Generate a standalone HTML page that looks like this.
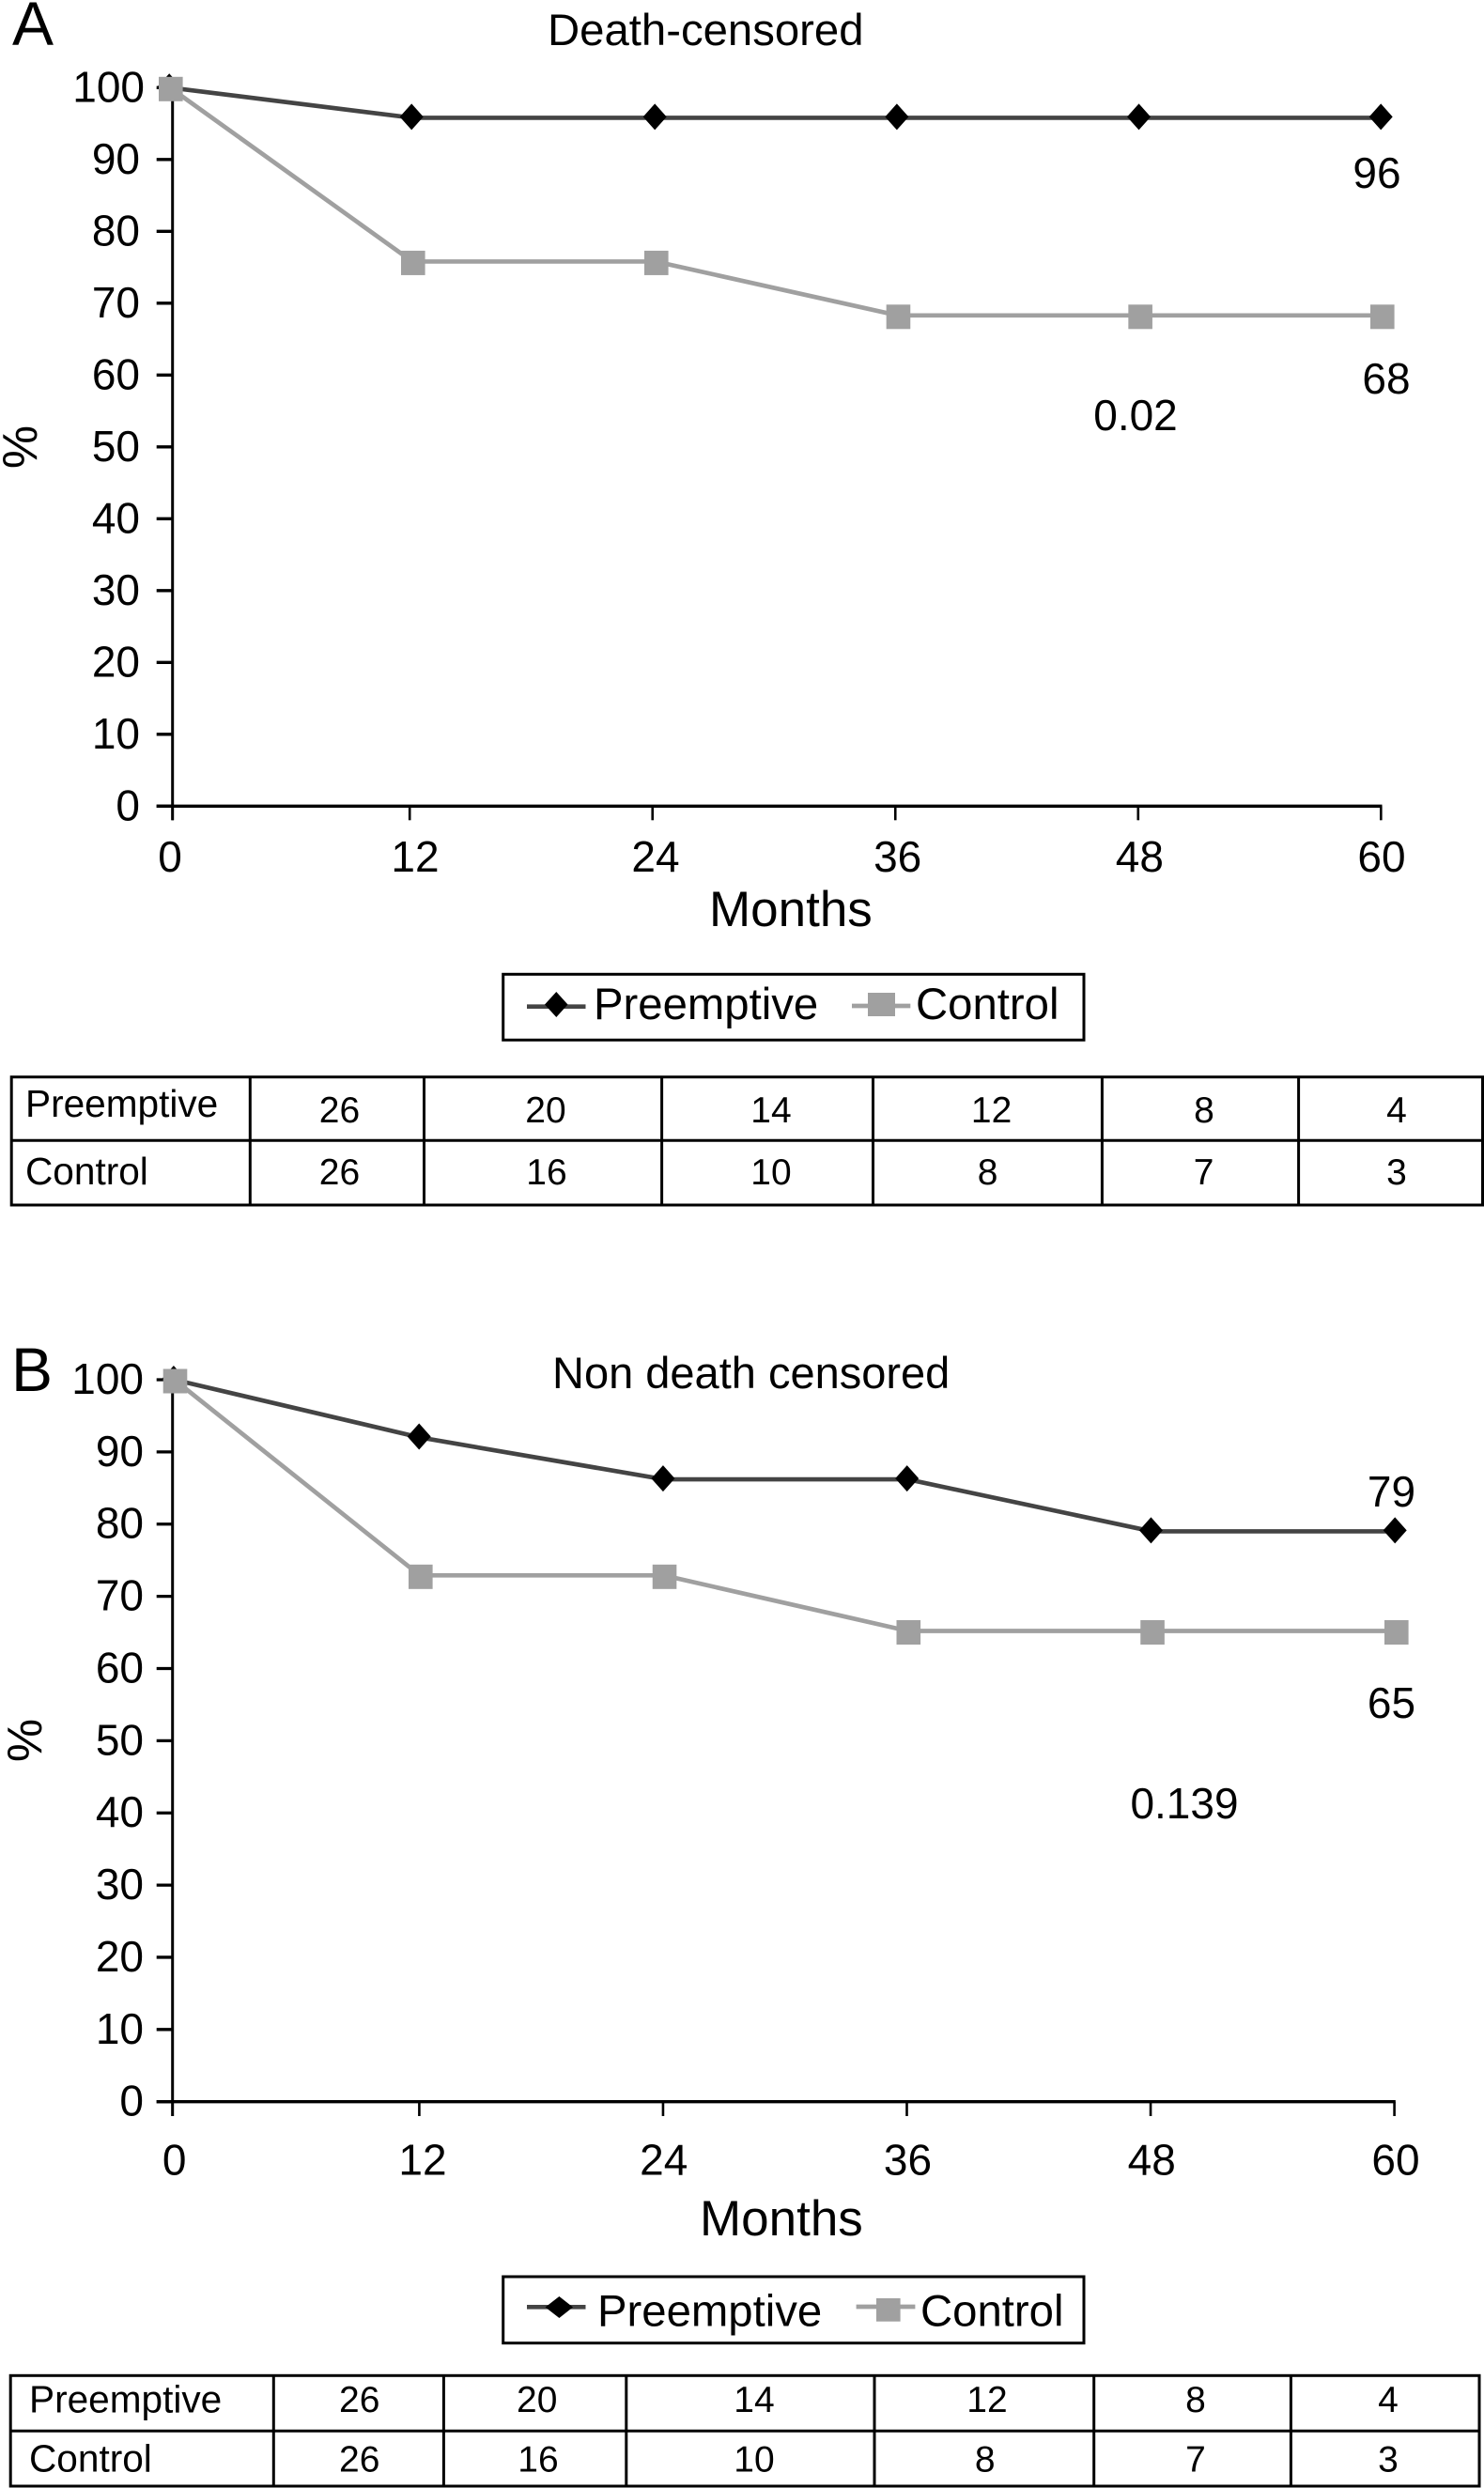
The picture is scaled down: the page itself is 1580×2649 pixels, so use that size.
<!DOCTYPE html>
<html lang="en">
<head>
<meta charset="utf-8">
<title>Preemptive vs Control survival charts</title>
<style>
  html, body { margin: 0; padding: 0; background: #fff; }
  svg { display: block; }
  text { font-family: "Liberation Sans", Arial, sans-serif; fill: #000; }
</style>
</head>
<body>
<svg id="figure" width="1580" height="2649" viewBox="0 0 1580 2649" xmlns="http://www.w3.org/2000/svg">
  <rect x="0" y="0" width="1580" height="2649" fill="#fff"/>
  <text x="13" y="48" font-size="66">A</text>
  <text x="583" y="48" font-size="47.3">Death-censored</text>
  <text text-anchor="middle" font-size="52" transform="translate(39 476) rotate(-90)">%</text>
  <text x="755" y="986" font-size="53">Months</text>
  <text x="1466" y="200" text-anchor="middle" font-size="46">96</text>
  <text x="1476" y="419" text-anchor="middle" font-size="46">68</text>
  <text x="1209" y="458" text-anchor="middle" font-size="46">0.02</text>

  <text x="12" y="1481" font-size="66">B</text>
  <text x="588" y="1478" font-size="47">Non death censored</text>
  <text text-anchor="middle" font-size="52" transform="translate(44 1853) rotate(-90)">%</text>
  <text x="745" y="2380" font-size="53">Months</text>
  <text x="1481.5" y="1604" text-anchor="middle" font-size="46">79</text>
  <text x="1481.5" y="1829" text-anchor="middle" font-size="46">65</text>
  <text x="1261" y="1936" text-anchor="middle" font-size="46">0.139</text>

  <g>
    <rect x="535.7" y="1037.3" width="618.3" height="70" fill="#fff" stroke="#000" stroke-width="3"/>
    <line x1="561" y1="1071.7" x2="623.5" y2="1071.7" stroke="#444" stroke-width="4.7"/>
    <polygon points="592.3,1056 604.5,1069.5 592.3,1083 580,1069.5" fill="#000"/>
    <text x="632" y="1085" font-size="47.3">Preemptive</text>
    <line x1="907" y1="1071" x2="969.3" y2="1071" stroke="#a0a0a0" stroke-width="4.7"/>
    <rect x="924" y="1057" width="29" height="25" fill="#a0a0a0"/>
    <text x="975" y="1085" font-size="47.3">Control</text>
  </g>
  <g>
    <rect x="535.7" y="2424" width="618.3" height="70.7" fill="#fff" stroke="#000" stroke-width="3"/>
    <line x1="561" y1="2456.3" x2="623.5" y2="2456.3" stroke="#444" stroke-width="4.7"/>
    <polygon points="595.4,2445 610,2456.5 595.4,2468 580.6,2456.5" fill="#000"/>
    <text x="636" y="2476.7" font-size="47.3">Preemptive</text>
    <line x1="911.6" y1="2456" x2="974.4" y2="2456" stroke="#a0a0a0" stroke-width="4.7"/>
    <rect x="933" y="2447" width="25.6" height="24.7" fill="#a0a0a0"/>
    <text x="980" y="2476.7" font-size="47.3">Control</text>
  </g>
</svg>

<script>
const months = [0, 12, 24, 36, 48, 60];
const yTickLabels = [0, 10, 20, 30, 40, 50, 60, 70, 80, 90, 100];

const panelAPreemptive = [100, 95.8, 95.8, 95.8, 95.8, 95.8];
const panelAControl = [100, 75.8, 75.8, 68.3, 68.3, 68.3];
const panelBPreemptive = [100, 92, 86.2, 86.2, 79, 79];
const panelBControl = [100, 72.9, 72.9, 65.2, 65.2, 65.2];

const panelARiskPreemptive = [26, 20, 14, 12, 8, 4];
const panelARiskControl = [26, 16, 10, 8, 7, 3];
const panelBRiskPreemptive = [26, 20, 14, 12, 8, 4];
const panelBRiskControl = [26, 16, 10, 8, 7, 3];

const NS = 'http://www.w3.org/2000/svg';
const figure = document.getElementById('figure');

function add(tag, attrs, parent) {
  const el = document.createElementNS(NS, tag);
  for (const k in attrs) el.setAttribute(k, attrs[k]);
  (parent || figure).appendChild(el);
  return el;
}

function piecewiseScale(domain, range) {
  return function (v) {
    let i = 0;
    while (i < domain.length - 2 && v > domain[i + 1]) i++;
    const t = (v - domain[i]) / (domain[i + 1] - domain[i]);
    return range[i] + t * (range[i + 1] - range[i]);
  };
}

function drawPanel(prefix, cfg, preemptive, control) {
  const group = add('g', {});
  
  

  const y = piecewiseScale([0, 100], [cfg.y0, cfg.y100]);
  const xTick = piecewiseScale(cfg.tickDomain, cfg.tickRange);
  const xMark = piecewiseScale(cfg.markDomain, cfg.markRange);

  const yAxis = add('line', { x1: cfg.axisX, y1: y(100) - 4, x2: cfg.axisX, y2: cfg.xTickEnd, stroke: '#000', 'stroke-width': 3 }, group);
  
  

  const xAxis = add('line', { x1: cfg.axisX - 17, y1: y(0), x2: xTick(60) + 1.2, y2: y(0), stroke: '#000', 'stroke-width': 3.3 }, group);
  
  

  yTickLabels.forEach(function (v) {
    const tick = add('line', { x1: cfg.axisX - 17, y1: y(v), x2: cfg.axisX, y2: y(v), stroke: '#000', 'stroke-width': 3.3 }, group);
    
    
    const label = add('text', { x: cfg.yLabelX + (v >= 100 ? cfg.yHundredShift : 0), y: y(v) + 15, 'text-anchor': 'end', 'font-size': 46 }, group);
    label.textContent = String(v);
    
    
  });

  months.forEach(function (m) {
    const tick = add('line', { x1: xTick(m), y1: y(0), x2: xTick(m), y2: cfg.xTickEnd, stroke: '#000', 'stroke-width': 2.6 }, group);
    
    
    const label = add('text', { x: xMark(m) + (m === 12 ? 3 : 0), y: cfg.xLabelY, 'text-anchor': 'middle', 'font-size': 46 }, group);
    label.textContent = String(m);
    
    
  });

  const prePts = months.map(function (m, i) { return xMark(m) + ',' + y(preemptive[i]); }).join(' ');
  const conPts = months.map(function (m, i) { return xMark(m) + ',' + y(control[i]); }).join(' ');

  const preLine = add('polyline', { points: prePts, fill: 'none', stroke: '#444', 'stroke-width': 4.7, 'stroke-linejoin': 'round' }, group);
  
  

  const conLine = add('polyline', { points: conPts, fill: 'none', stroke: '#a0a0a0', 'stroke-width': 4.7, 'stroke-linejoin': 'round' }, group);
  
  

  months.forEach(function (m, i) {
    const cx = xMark(m) - 0.8;
    const cy = y(preemptive[i]) - 1;
    const pts = [[cx, cy - 14], [cx + 12.5, cy], [cx, cy + 14], [cx - 12.5, cy]].map(function (p) { return p.join(','); }).join(' ');
    const marker = add('polygon', { points: pts, fill: '#000' }, group);
    
    
  });

  months.forEach(function (m, i) {
    const cx = xMark(m) + 0.8;
    const cy = y(control[i]) + 1.5;
    const marker = add('rect', { x: cx - 12.8, y: cy - 13, width: 25.6, height: 26, fill: '#a0a0a0' }, group);
    
    
  });
}

function drawTable(prefix, t, riskPreemptive, riskControl) {
  const group = add('g', {});
  
  

  const frame = add('rect', { x: t.left, y: t.top, width: t.right - t.left, height: t.bottom - t.top, fill: 'none', stroke: '#000', 'stroke-width': 3 }, group);
  
  

  const rowRule = add('line', { x1: t.left, y1: t.mid, x2: t.right, y2: t.mid, stroke: '#000', 'stroke-width': 3 }, group);
  
  

  t.cols.forEach(function (cx) {
    const rule = add('line', { x1: cx, y1: t.top, x2: cx, y2: t.bottom, stroke: '#000', 'stroke-width': 3 }, group);
    
    
  });

  const rows = [
    { label: 'Preemptive', values: riskPreemptive, labelY: t.labelY1, valueY: t.valueY1, centers: t.centers1 },
    { label: 'Control', values: riskControl, labelY: t.labelY2, valueY: t.valueY2, centers: t.centers2 }
  ];
  rows.forEach(function (row) {
    const head = add('text', { x: t.labelX, y: row.labelY, 'font-size': 40.6 }, group);
    head.textContent = row.label;
    
    
    row.values.forEach(function (v, i) {
      const cell = add('text', { x: row.centers[i], y: row.valueY, 'text-anchor': 'middle', 'font-size': 39 }, group);
      cell.textContent = String(v);
      
      
    });
  });
}

drawPanel('panel-a', {
  axisX: 183.7, y0: 858.3, y100: 93.3, xTickEnd: 873.3, xLabelY: 928,
  yLabelX: 149, yHundredShift: 5,
  tickDomain: [0, 12, 60], tickRange: [183.7, 436.2, 1470.3],
  markDomain: [0, 12, 24, 60], markRange: [181, 439, 698, 1471]
}, panelAPreemptive, panelAControl);

drawPanel('panel-b', {
  axisX: 183.7, y0: 2237.7, y100: 1469, xTickEnd: 2253, xLabelY: 2315.7,
  yLabelX: 153, yHundredShift: 0,
  tickDomain: [0, 12, 60], tickRange: [183.7, 446.4, 1484.6],
  markDomain: [0, 12, 60], markRange: [185.7, 447, 1486]
}, panelBPreemptive, panelBControl);

drawTable('panel-a', {
  left: 12.2, right: 1578.5, top: 1146.7, mid: 1214.3, bottom: 1283,
  cols: [266.3, 451.5, 704.6, 929.5, 1173.4, 1382.6],
  labelX: 27, labelY1: 1189, labelY2: 1261, valueY1: 1195, valueY2: 1261,
  centers1: [361.5, 581, 821, 1055.6, 1282, 1487],
  centers2: [361.5, 582, 821, 1051.6, 1281.6, 1487]
}, panelARiskPreemptive, panelARiskControl);

drawTable('panel-b', {
  left: 11.2, right: 1575, top: 2529.3, mid: 2588.3, bottom: 2647,
  cols: [291.3, 472.4, 666.8, 931, 1164.7, 1374.4],
  labelX: 31, labelY1: 2568.3, labelY2: 2631.7, valueY1: 2568, valueY2: 2631.7,
  centers1: [382.7, 571.7, 803, 1051, 1273, 1478],
  centers2: [382.7, 573, 803, 1048.7, 1273, 1478]
}, panelBRiskPreemptive, panelBRiskControl);
</script>
</body>
</html>
